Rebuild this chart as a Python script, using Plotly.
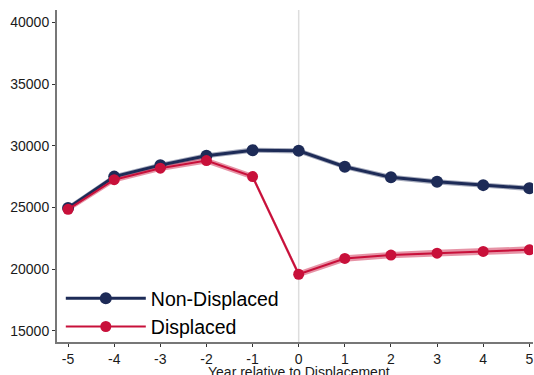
import plotly.graph_objects as go

years = [-5, -4, -3, -2, -1, 0, 1, 2, 3, 4, 5]
non_displaced = [24950, 27500, 28430, 29190, 29640, 29590, 28300, 27440, 27080, 26810, 26550]
displaced = [24850, 27250, 28180, 28800, 27500, 19590, 20870, 21140, 21300, 21440, 21570]
nd_halfwidth = [200, 200, 200, 210, 210, 210, 210, 210, 210, 210, 210]
d_halfwidth = [200, 220, 220, 230, 240, 240, 260, 260, 270, 270, 280]

navy = "#1d2b57"
red = "#c8103a"

fig = go.Figure()

def band(x, y, hw, color):
    upper = [v + h for v, h in zip(y, hw)]
    lower = [v - h for v, h in zip(y, hw)]
    fig.add_trace(go.Scatter(x=x, y=upper, mode="lines", line=dict(width=0), showlegend=False, hoverinfo="skip"))
    fig.add_trace(go.Scatter(x=x, y=lower, mode="lines", line=dict(width=0), fill="tonexty",
                             fillcolor=color, showlegend=False, hoverinfo="skip"))

band(years, non_displaced, nd_halfwidth, "rgba(29,43,87,0.4)")
band(years, displaced, d_halfwidth, "rgba(200,16,58,0.45)")

fig.add_trace(go.Scatter(x=years, y=non_displaced, mode="lines+markers", name="Non-Displaced",
                         line=dict(color=navy, width=3), marker=dict(color=navy, size=12)))
fig.add_trace(go.Scatter(x=years, y=displaced, mode="lines+markers", name="Displaced",
                         line=dict(color=red, width=2), marker=dict(color=red, size=11)))

fig.add_shape(type="line", x0=0, x1=0, y0=0, y1=1, yref="paper", xref="x",
              line=dict(color="#dddddd", width=1.5), layer="below")

fig.add_annotation(text="Year relative to Displacement", x=0, xref="x", y=0, yref="paper",
                   xanchor="center", yanchor="top", yshift=-20, showarrow=False,
                   font=dict(size=14, color="#1a1a1a"))

fig.update_layout(
    width=534, height=375,
    margin=dict(l=57, r=1, t=10, b=33),
    plot_bgcolor="white", paper_bgcolor="white",
    font=dict(family="Liberation Sans, Arial, sans-serif", color="#1a1a1a", size=14),
    showlegend=True,
    legend=dict(x=0.008, y=-0.012, xanchor="left", yanchor="bottom", bgcolor="rgba(0,0,0,0)",
                font=dict(size=19.5, color="#000000"), itemwidth=80, tracegroupgap=0,
                traceorder="normal"),
    xaxis=dict(range=[-5.24, 5.08], tickmode="array", tickvals=years, automargin=False,
               ticktext=[str(v) for v in years], showgrid=False, zeroline=False,
               showline=True, linecolor="#777777", linewidth=2, ticks="outside",
               ticklen=3, tickcolor="#333333", tickfont=dict(size=14)),
    yaxis=dict(range=[14100, 41000], tickvals=[15000, 20000, 25000, 30000, 35000, 40000],
               ticktext=["15000", "20000", "25000", "30000", "35000", "40000"], automargin=False,
               showgrid=False, zeroline=False, showline=True, linecolor="#777777", linewidth=2,
               ticks="outside", ticklen=3, tickcolor="#333333", tickfont=dict(size=14)),
)

fig.write_html("out.html", post_script="document.body.style.margin='0';",
               config={"displayModeBar": False})
